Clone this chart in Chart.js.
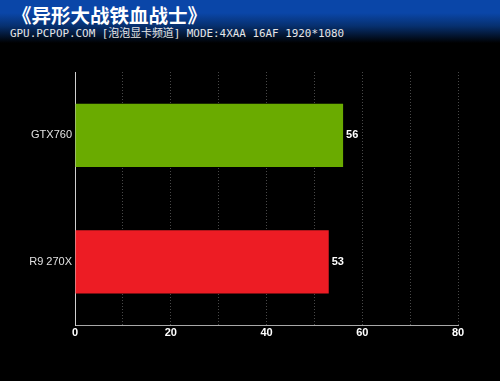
<!DOCTYPE html>
<html>
<head>
<meta charset="utf-8">
<script src="https://cdn.jsdelivr.net/npm/chart.js@4/dist/chart.umd.min.js"></script>
<style>
    html, body { margin: 0; padding: 0; background: #000; }
    #wrap { position: relative; width: 500px; height: 381px; overflow: hidden; }
    #header {
        position: absolute; left: 0; top: 0; width: 500px; height: 46px;
        background: linear-gradient(to bottom, #0a46a8 0px, #0a46a8 13px, #07306f 26px, #000 43px);
    }
    #title {
        position: absolute; left: 12px; top: 0px;
        font: bold 19.5px "Noto Sans CJK SC", sans-serif; color: #fff;
        white-space: nowrap;
    }
    #subtitle {
        position: absolute; left: 10px; top: 24px;
        font: 10.9px "DejaVu Sans Mono", "Noto Sans CJK SC", monospace; color: #e6e6e6;
        white-space: nowrap;
    }
    canvas { position: absolute; left: 0; top: 0; }
</style>
</head>
<body>
<div id="wrap">
    <div id="header"></div>
    <div id="title">《异形大战铁血战士》</div>
    <div id="subtitle">GPU.PCPOP.COM [泡泡显卡频道] MODE:4XAA 16AF 1920*1080</div>
    <canvas id="chart" width="500" height="381"></canvas>
</div>
<script>
// Chart data
const categories = ['GTX760', 'R9 270X'];
const fpsValues = [56, 53];
const barColors = ['#6aab00', '#ed1c24'];
const axisMax = 80;

// Value labels at the end of each bar
const valueLabels = {
    id: 'valueLabels',
    afterDatasetsDraw(chart) {
        const ctx = chart.ctx;
        const meta = chart.getDatasetMeta(0);
        ctx.save();
        ctx.font = 'bold 11px "Liberation Sans", Arial, sans-serif';
        ctx.fillStyle = '#ffffff';
        ctx.textAlign = 'left';
        ctx.textBaseline = 'middle';
        meta.data.forEach((bar, i) => {
            ctx.fillText(String(fpsValues[i]), bar.x + 3, bar.y);
        });
        ctx.restore();
    }
};

const ctx = document.getElementById('chart').getContext('2d');
new Chart(ctx, {
    type: 'bar',
    data: {
        labels: categories,
        datasets: [{
            data: fpsValues,
            backgroundColor: barColors,
            borderWidth: 0,
            barPercentage: 0.5,
            categoryPercentage: 1.0
        }]
    },
    options: {
        indexAxis: 'y',
        responsive: false,
        animation: false,
        layout: { padding: { top: 72, right: 42, bottom: 36, left: 0 } },
        plugins: {
            legend: { display: false },
            tooltip: { enabled: false }
        },
        scales: {
            x: {
                min: 0,
                max: axisMax,
                ticks: {
                    stepSize: 10,
                    color: '#ffffff',
                    font: { family: '"Liberation Sans", Arial, sans-serif', size: 11, weight: 'bold' },
                    padding: 1,
                    maxRotation: 0,
                    callback: (v) => (v % 20 === 0 ? v : '')
                },
                grid: {
                    color: (c) => (c.tick && c.tick.value === 0 ? 'rgba(0,0,0,0)' : '#484848'),
                    lineWidth: 1,
                    drawTicks: false
                },
                border: { display: true, color: '#a8a8a8', width: 1, dash: [1, 2] },
                afterFit: (scale) => { scale.height = 20; }
            },
            y: {
                ticks: {
                    color: '#e0e0e0',
                    font: { family: '"Liberation Sans", Arial, sans-serif', size: 11 },
                    padding: 3
                },
                grid: { display: false, drawTicks: false },
                border: { display: true, color: '#d0d0d0', width: 1 },
                afterFit: (scale) => { scale.width = 75; }
            }
        }
    },
    plugins: [valueLabels]
});
</script>
</body>
</html>
